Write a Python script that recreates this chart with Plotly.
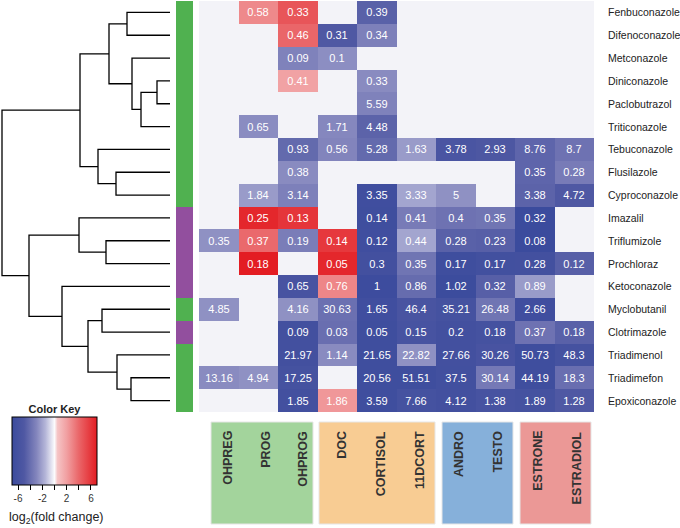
import plotly.graph_objects as go

W, H = 680, 528

compounds = ["Fenbuconazole", "Difenoconazole", "Metconazole", "Diniconazole",
             "Paclobutrazol", "Triticonazole", "Tebuconazole", "Flusilazole",
             "Cyproconazole", "Imazalil", "Triflumizole", "Prochloraz",
             "Ketoconazole", "Myclobutanil", "Clotrimazole", "Triadimenol",
             "Triadimefon", "Epoxiconazole"]
hormones = ["OHPREG", "PROG", "OHPROG", "DOC", "CORTISOL", "11DCORT",
            "ANDRO", "TESTO", "ESTRONE", "ESTRADIOL"]
groups = ["g"] * 9 + ["p"] * 4 + ["g", "p", "g", "g", "g"]
N = None
cell_labels = [
    [N, 0.58, 0.33, N, 0.39, N, N, N, N, N],
    [N, N, 0.46, 0.31, 0.34, N, N, N, N, N],
    [N, N, 0.09, 0.1, N, N, N, N, N, N],
    [N, N, 0.41, N, 0.33, N, N, N, N, N],
    [N, N, N, N, 5.59, N, N, N, N, N],
    [N, 0.65, N, 1.71, 4.48, N, N, N, N, N],
    [N, N, 0.93, 0.56, 5.28, 1.63, 3.78, 2.93, 8.76, 8.7],
    [N, N, 0.38, N, N, N, N, N, 0.35, 0.28],
    [N, 1.84, 3.14, N, 3.35, 3.33, 5, N, 3.38, 4.72],
    [N, 0.25, 0.13, N, 0.14, 0.41, 0.4, 0.35, 0.32, N],
    [0.35, 0.37, 0.19, 0.14, 0.12, 0.44, 0.28, 0.23, 0.08, N],
    [N, 0.18, N, 0.05, 0.3, 0.35, 0.17, 0.17, 0.28, 0.12],
    [N, N, 0.65, 0.76, 1, 0.86, 1.02, 0.32, 0.89, N],
    [4.85, N, 4.16, 30.63, 1.65, 46.4, 35.21, 26.48, 2.66, N],
    [N, N, 0.09, 0.03, 0.05, 0.15, 0.2, 0.18, 0.37, 0.18],
    [N, N, 21.97, 1.14, 21.65, 22.82, 27.66, 30.26, 50.73, 48.3],
    [13.16, 4.94, 17.25, N, 20.56, 51.51, 37.5, 30.14, 44.19, 18.3],
    [N, N, 1.85, 1.86, 3.59, 7.66, 4.12, 1.38, 1.89, 1.28],
]
log2fc = [
    [N, 2.8, 4.7, N, -4.6, N, N, N, N, N],
    [N, N, 4.0, -5.0, -3.2, N, N, N, N, N],
    [N, N, -3.1, -2.7, N, N, N, N, N, N],
    [N, N, 1.9, N, -2.8, N, N, N, N, N],
    [N, N, N, N, -3.1, N, N, N, N, N],
    [N, -2.75, N, -2.9, -4.5, N, N, N, N, N],
    [N, N, -4.2, -3.0, -4.2, -2.3, -5.5, -5.2, -4.4, -3.8],
    [N, N, -2.8, N, N, N, N, N, -4.4, -3.4],
    [N, -2.3, -3.2, N, -6.5, -2.0, -2.6, N, -4.5, -5.0],
    [N, 6.6, 6.0, N, -6.6, -3.4, -3.8, -3.7, -7.0, N],
    [-2.6, 3.9, -3.3, 5.9, -6.5, -2.0, -4.6, -4.7, -7.0, N],
    [N, 7.0, N, 6.6, -6.2, -3.7, -6.6, -6.3, -6.2, -4.7],
    [N, N, -5.7, 2.9, -6.8, -4.1, -6.9, -4.7, -2.3, N],
    [-2.6, N, -2.6, -3.9, -6.5, -5.6, -6.0, -3.7, -6.5, N],
    [N, N, -6.2, -4.0, -6.6, -5.8, -6.2, -6.0, -3.8, -4.6],
    [N, N, -6.2, -2.8, -6.6, -2.6, -6.2, -5.7, -6.6, -6.0],
    [-2.8, -2.6, -6.0, N, -6.6, -6.6, -6.3, -3.5, -6.6, -4.0],
    [N, N, -6.2, 2.3, -6.6, -6.0, -6.2, -5.8, -6.0, -5.0],
]
# dendrogram merges: (child_a, child_b, height); leaves 0..17, clusters 18+
merges = [
    (0, 1, 43), (3, 4, 13), (19, 5, 29), (2, 20, 38), (18, 21, 61),
    (7, 8, 54), (6, 23, 72), (22, 24, 90), (10, 11, 64), (9, 26, 91),
    (13, 14, 68), (16, 17, 39), (15, 29, 53), (28, 30, 82), (12, 31, 108),
    (27, 32, 141), (25, 33, 168),
]
hormone_groups = [("#a3d49c", 0, 2), ("#f8cc93", 3, 5), ("#86b0da", 6, 7), ("#eb9896", 8, 9)]

FONT = "Arial, Liberation Sans, sans-serif"
ZMIN, ZMAX = -7, 7
scale_stops = [(-7, "#3b4b9d"), (-5, "#4f58a3"), (-3, "#8284bc"), (-1.5, "#b4b5d8"),
               (0, "#fbfbfd"), (0.5, "#f5c4c5"), (2, "#f1a0a2"), (4, "#ea6669"),
               (7, "#e31d23")]
colorscale = [[(z - ZMIN) / (ZMAX - ZMIN), c] for z, c in scale_stops]


def px_x(p):
    return p / W


def px_y(p):
    return 1 - p / H


fig = go.Figure()

texts = [["" if v is None else f"{v:g}" for v in row] for row in cell_labels]
fig.add_trace(go.Heatmap(
    z=log2fc, x=list(range(len(hormones))), y=list(range(len(compounds))),
    text=texts, texttemplate="%{text}",
    textfont=dict(color="white", size=11, family=FONT),
    zmin=ZMIN, zmax=ZMAX, colorscale=colorscale,
    xaxis="x", yaxis="y", hoverinfo="skip",
    colorbar=dict(
        orientation="h", x=px_x(12), xanchor="left", y=px_y(505), yanchor="bottom",
        len=85, lenmode="pixels", thickness=68, thicknessmode="pixels",
        xpad=0, ypad=0, outlinewidth=1, outlinecolor="black",
        tickvals=[-6, -4, -2, 0, 2, 4, 6], ticktext=["-6", "", "-2", "", "2", "", "6"],
        ticks="outside", ticklen=5, tickcolor="black", tickwidth=1.2,
        tickfont=dict(size=10, color="#333", family=FONT),
        title=dict(text="<b>Color Key</b>", side="top",
                   font=dict(size=11, color="#222", family=FONT)),
    ),
))

# side colour bar
gcode = [[0 if g == "g" else 1] for g in groups]
fig.add_trace(go.Heatmap(
    z=gcode, x=[0], y=list(range(len(compounds))), zmin=0, zmax=1,
    colorscale=[[0, "#50b150"], [0.5, "#50b150"], [0.5, "#924f9e"], [1, "#924f9e"]],
    showscale=False, xaxis="x3", yaxis="y", hoverinfo="skip",
))

# dendrogram
node_y = {i: float(i) for i in range(len(compounds))}
node_h = {i: 0.0 for i in range(len(compounds))}
dx, dy = [], []
for k, (a, b, h) in enumerate(merges):
    nid = len(compounds) + k
    dx += [node_h[a], h, h, node_h[b], None]
    dy += [node_y[a], node_y[a], node_y[b], node_y[b], None]
    node_y[nid] = (node_y[a] + node_y[b]) / 2
    node_h[nid] = h
fig.add_trace(go.Scatter(x=dx, y=dy, mode="lines", line=dict(color="black", width=1.3),
                         xaxis="x2", yaxis="y", hoverinfo="skip", showlegend=False))

shapes = [dict(type="rect", xref="x", yref="y", x0=-0.5, x1=len(hormones) - 0.5,
               y0=-0.5, y1=len(compounds) - 0.5, fillcolor="#f3f3f8",
               line=dict(width=0), layer="below")]
box_px = [(211, 313), (319, 435), (442, 513), (520, 591)]
for (col, i0, i1), (bx0, bx1) in zip(hormone_groups, box_px):
    shapes.append(dict(type="rect", xref="paper", yref="paper",
                       x0=px_x(bx0), x1=px_x(bx1), y0=px_y(524), y1=px_y(422),
                       fillcolor=col, line=dict(color="#e6e6e6", width=1), layer="below"))

annotations = []
for i, name in enumerate(compounds):
    annotations.append(dict(xref="paper", yref="y", x=px_x(606), y=i, text=name,
                            showarrow=False, xanchor="left", yanchor="middle",
                            font=dict(size=10.5, color="#222", family=FONT)))
lab_shift = [9, 7, 5, 4.5, 4, 3.7, 3.3, 2.3, 3, 2.7]
for i, name in enumerate(hormones):
    annotations.append(dict(xref="x", yref="paper", x=i, xshift=lab_shift[i], y=px_y(429),
                            text=f"<b>{name}</b>", textangle=-90, showarrow=False,
                            xanchor="center", yanchor="top",
                            font=dict(size=12.5, color="#333", family=FONT)))
annotations.append(dict(xref="paper", yref="paper", x=px_x(56), y=px_y(518),
                        text="log<sub>2</sub>(fold change)", showarrow=False,
                        xanchor="center", yanchor="middle",
                        font=dict(size=12.5, color="#222", family=FONT)))

fig.update_layout(
    width=W, height=H, margin=dict(l=0, r=0, t=0, b=0),
    paper_bgcolor="white", plot_bgcolor="rgba(0,0,0,0)",
    showlegend=False,
    xaxis=dict(domain=[px_x(199), px_x(594)], range=[-0.5, len(hormones) - 0.5],
               visible=False, anchor="y"),
    yaxis=dict(domain=[px_y(412), px_y(1)], range=[len(compounds) - 0.5, -0.5],
               visible=False, anchor="x"),
    xaxis2=dict(domain=[0, px_x(170)], range=[170, 0], visible=False, anchor="y"),
    xaxis3=dict(domain=[px_x(176), px_x(193)], range=[-0.5, 0.5], visible=False, anchor="y"),
    shapes=shapes, annotations=annotations,
)

fig.write_html("out.html", config={"displayModeBar": False},
               post_script="document.body.style.margin='0';document.body.style.padding='0';")
